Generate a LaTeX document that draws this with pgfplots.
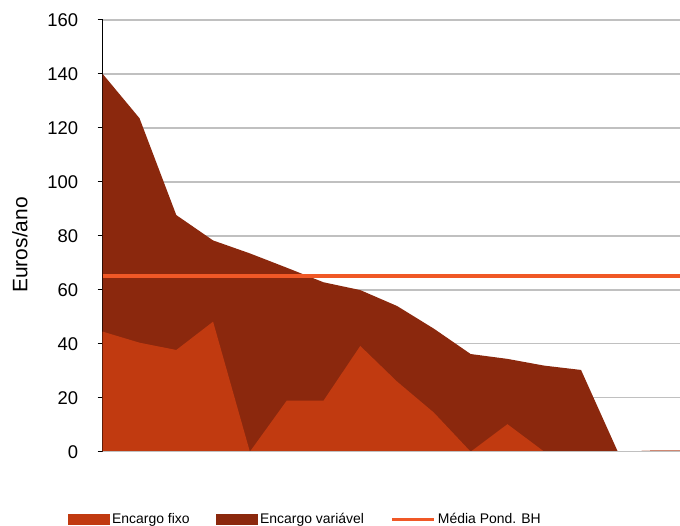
\documentclass[border=0pt]{standalone}
\usepackage{pgfplots}
\pgfplotsset{compat=1.18}
\usepackage{fontspec}
\setmainfont{Liberation Sans}
\definecolor{fixo}{RGB}{193,58,16}
\definecolor{variavel}{RGB}{139,40,13}
\definecolor{media}{RGB}{240,88,38}
\definecolor{gridc}{RGB}{192,192,192}
\begin{document}
\begin{tikzpicture}
\path[use as bounding box] (0,0) rectangle (680bp,526bp);
\begin{axis}[
  at={(102.7bp,74.3bp)}, anchor=south west,
  scale only axis, width=577.3bp, height=431.7bp,
  xmin=0, xmax=15.69, ymin=0, ymax=160,
  ytick={0,20,...,160}, xtick=\empty,
  axis x line=none, axis y line*=left,
  y axis line style={black, line width=1bp, -},
  ymajorgrids, grid style={gridc, line width=1.4bp},
  tick align=outside, major tick length=5bp, ytick style={black, line width=1bp},
  tick label style={font=\fontsize{18.5}{20}\selectfont},
  yticklabel style={xshift=-16bp},
  /pgf/number format/assume math mode=true,
  ylabel={Euros/ano},
  every axis y label/.style={at={(axis description cs:-0.1433,0.479)}, rotate=90, anchor=center, font=\fontsize{21}{23}\selectfont},
  legend columns=3,
  legend style={at={(axis description cs:-0.060,-0.156)}, anchor=west, draw=none, fill=none,
    font=\fontsize{14}{16}\selectfont, inner sep=0pt,
    nodes={inner sep=1.5bp},
    /tikz/every odd column/.append style={column sep=1bp},
    /tikz/every even column/.append style={column sep=25bp}},
]
\addlegendimage{legend image code/.code={\fill[fixo] (0bp,-5bp) rectangle (41bp,5bp);}}
\addlegendentry{Encargo fixo}
\addlegendimage{legend image code/.code={\fill[variavel] (0bp,-5bp) rectangle (41bp,5bp);}}
\addlegendentry{Encargo variável}
\addlegendimage{legend image code/.code={\draw[media, line width=3bp] (0bp,0bp) -- (42bp,0bp);}}
\addlegendentry{Média Pond. BH}
% total = encargo fixo + encargo variavel
\addplot[fill=variavel, draw=none, forget plot]
  coordinates {(0,140)(1,123.6)(2,87.7)(3,78.3)(4,73.5)(5,68.2)(6,62.8)(7,59.9)(8,54)(9,45.6)(10,36.2)(11,34.4)(12,31.9)(13,30.3)(14,0)(15,0.4)(16,0.4)} \closedcycle;
% encargo fixo
\addplot[fill=fixo, draw=none, forget plot]
  coordinates {(0,44.5)(1,40.4)(2,37.7)(3,48.2)(4,0)(5,18.9)(6,18.9)(7,39.2)(8,26)(9,14.5)(10,0)(11,10.2)(12,0)(13,0)(14,0)(15,0.4)(16,0.4)} \closedcycle;
\addplot[forget plot, draw=gridc, line width=1.4bp]
  coordinates {(0,0)(15.69,0)};
\addplot[forget plot, draw=media, line width=4bp]
  coordinates {(0,65)(15.69,65)};
\end{axis}
\end{tikzpicture}
\end{document}
